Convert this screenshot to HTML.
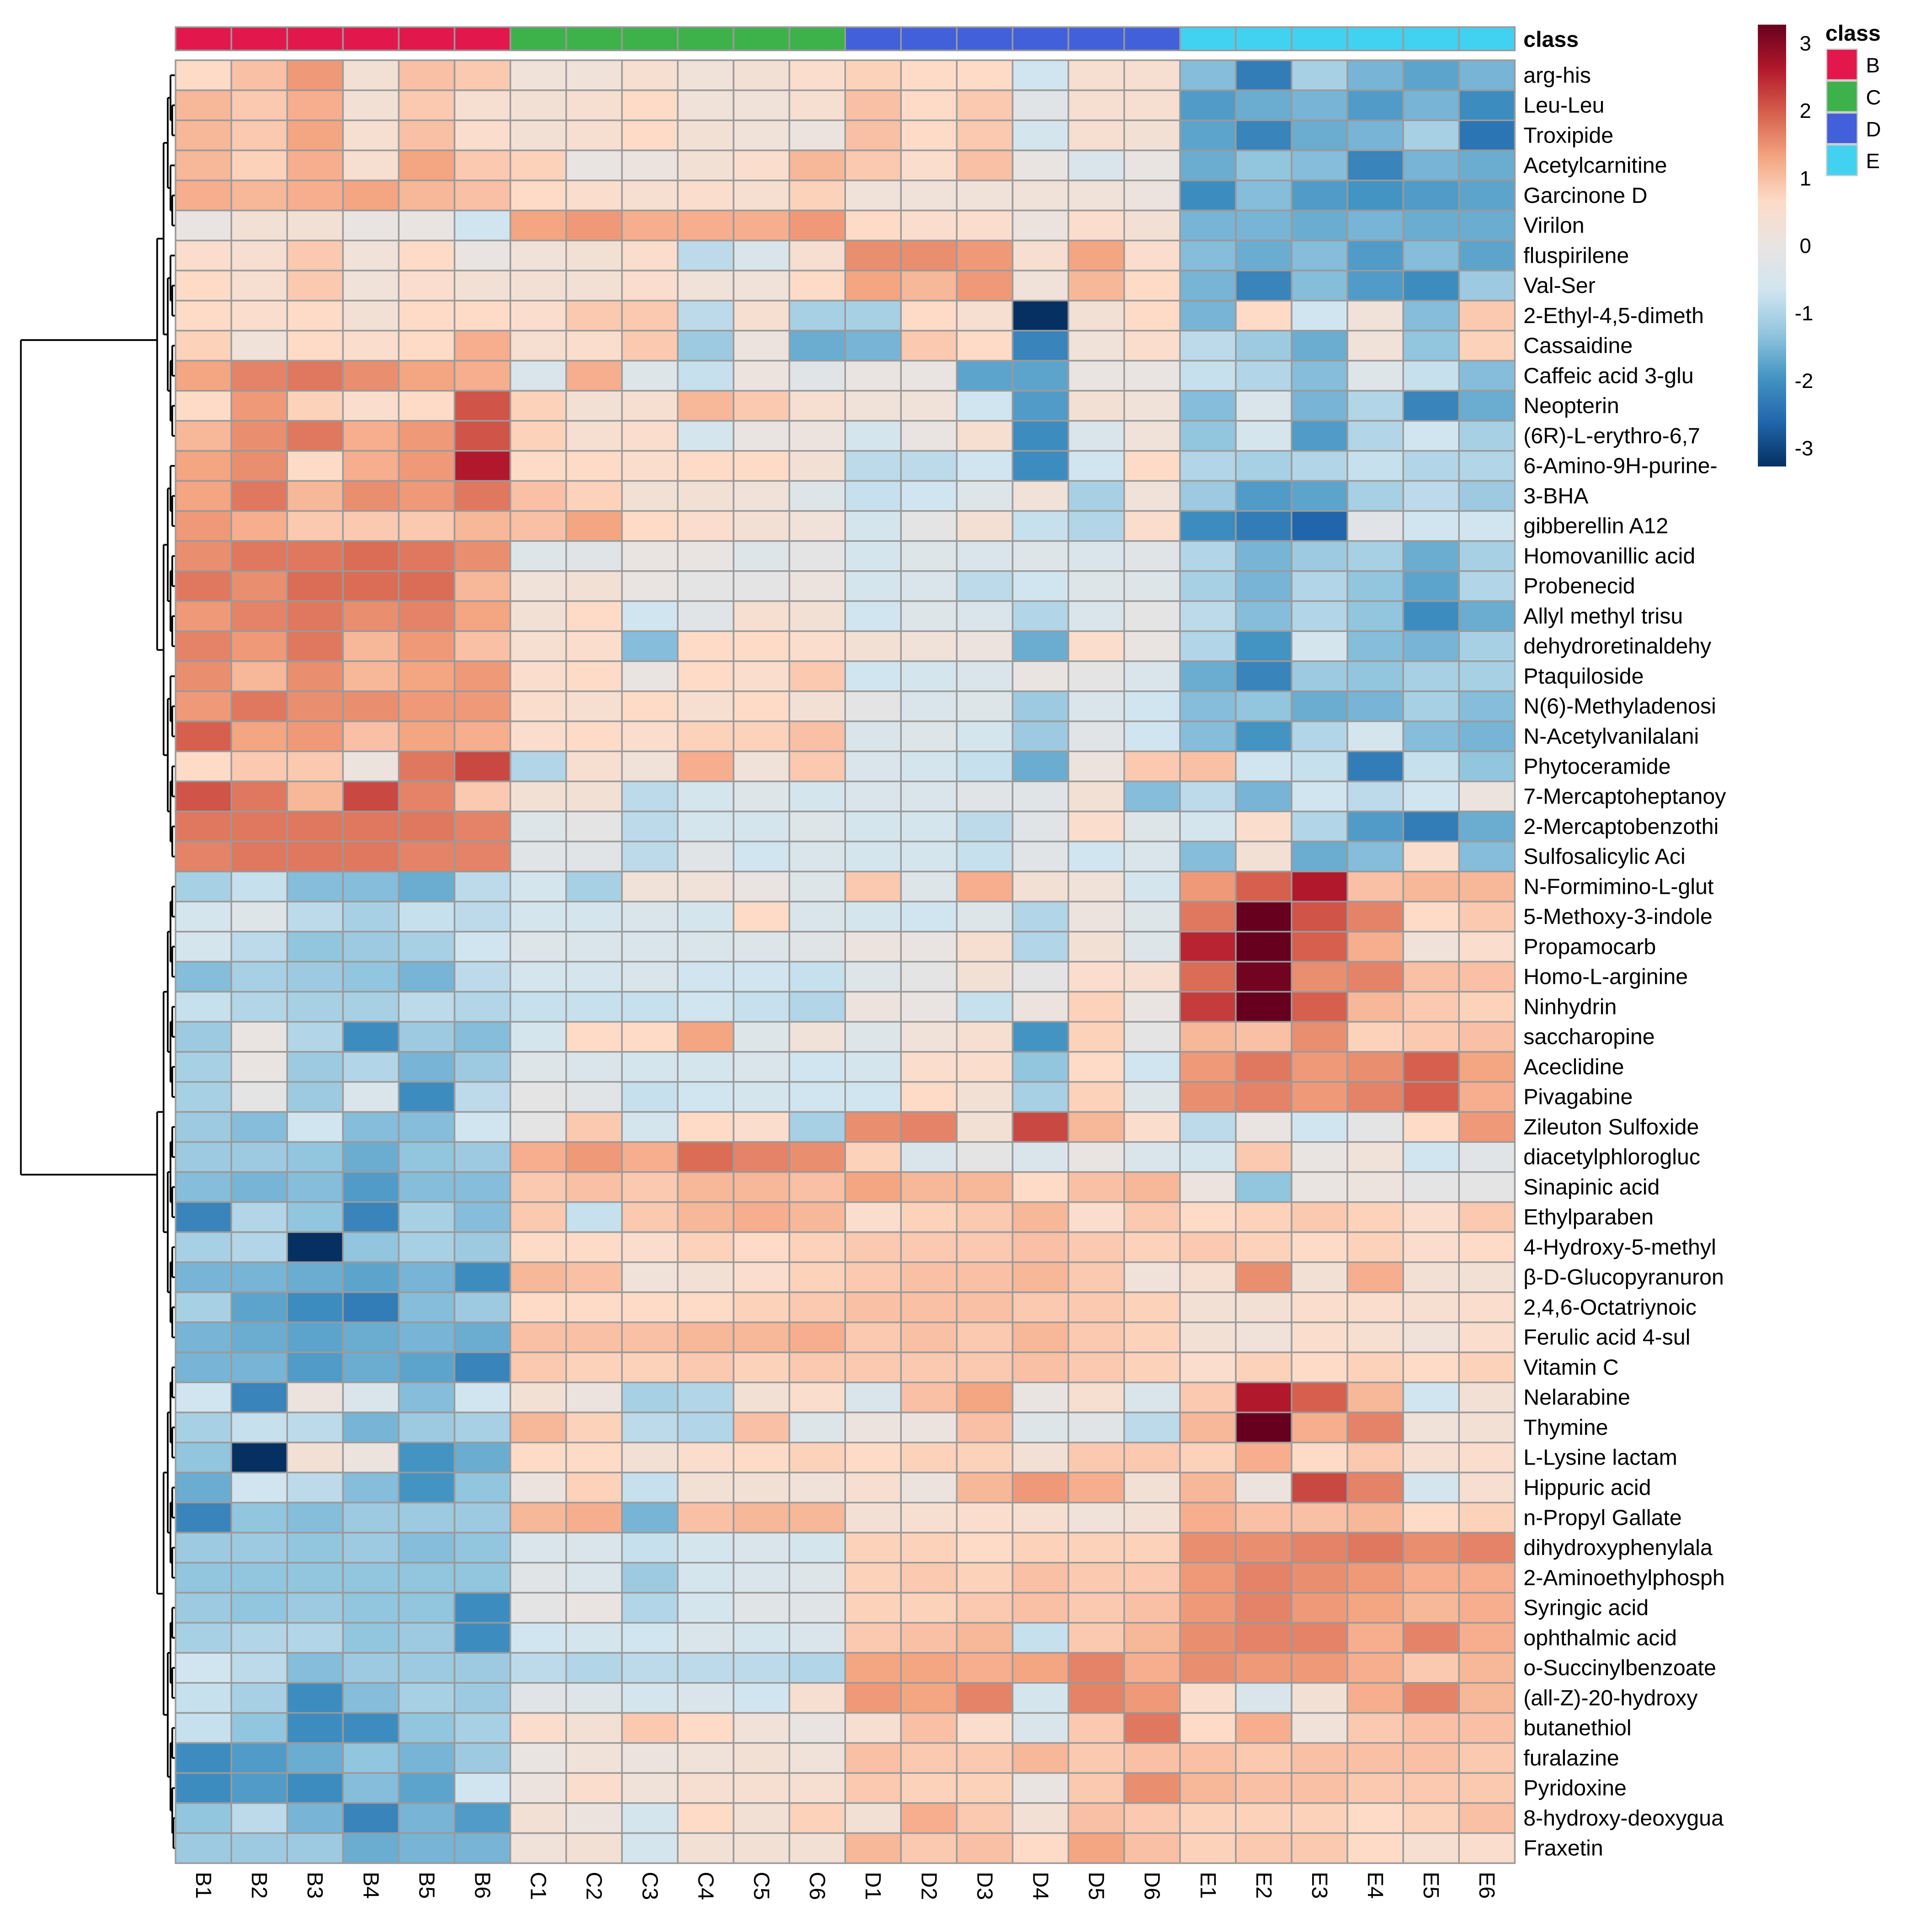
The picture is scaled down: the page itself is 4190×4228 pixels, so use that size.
<!DOCTYPE html>
<html><head><meta charset="utf-8"><style>
html,body{margin:0;padding:0;background:#fff}
svg{display:block}
text{font-family:"Liberation Sans",sans-serif}
</style></head><body>
<svg id="chart" width="4190" height="4228" viewBox="0 0 1560 1574" xmlns="http://www.w3.org/2000/svg">
<rect width="1560" height="1574" fill="#fff"/>
<g id="dendro"></g>
<g id="classbar"></g>
<g id="cells"></g>
<g id="rowlabels"></g>
<g id="collabels"></g>
<text x="1241" y="38" font-size="18" font-weight="bold">class</text>
<defs><linearGradient id="lg" x1="0" y1="0" x2="0" y2="1">
<stop offset="0" stop-color="#67001F"/><stop offset="0.1" stop-color="#B2182B"/><stop offset="0.2" stop-color="#D6604D"/><stop offset="0.3" stop-color="#F4A582"/><stop offset="0.4" stop-color="#FDDBC7"/><stop offset="0.5" stop-color="#E9E4E2"/><stop offset="0.6" stop-color="#D1E5F0"/><stop offset="0.7" stop-color="#92C5DE"/><stop offset="0.8" stop-color="#4393C3"/><stop offset="0.9" stop-color="#2166AC"/><stop offset="1" stop-color="#053061"/>
</linearGradient></defs>
<rect x="1432" y="20" width="23" height="360" fill="url(#lg)"/>
<g id="legticks"></g>
<text x="1487" y="33" font-size="18" font-weight="bold">class</text>
<g id="classlegend"></g>
</svg>
<script>
const rowNames=["arg-his","Leu-Leu","Troxipide","Acetylcarnitine","Garcinone D","Virilon","fluspirilene","Val-Ser","2-Ethyl-4,5-dimeth","Cassaidine","Caffeic acid 3-glu","Neopterin","(6R)-L-erythro-6,7","6-Amino-9H-purine-","3-BHA","gibberellin A12","Homovanillic acid","Probenecid","Allyl methyl trisu","dehydroretinaldehy","Ptaquiloside","N(6)-Methyladenosi","N-Acetylvanilalani","Phytoceramide","7-Mercaptoheptanoy","2-Mercaptobenzothi","Sulfosalicylic Aci","N-Formimino-L-glut","5-Methoxy-3-indole","Propamocarb","Homo-L-arginine","Ninhydrin","saccharopine","Aceclidine","Pivagabine","Zileuton Sulfoxide","diacetylphlorogluc","Sinapinic acid","Ethylparaben","4-Hydroxy-5-methyl","β-D-Glucopyranuron","2,4,6-Octatriynoic","Ferulic acid 4-sul","Vitamin C","Nelarabine","Thymine","L-Lysine lactam","Hippuric acid","n-Propyl Gallate","dihydroxyphenylala","2-Aminoethylphosph","Syringic acid","ophthalmic acid","o-Succinylbenzoate","(all-Z)-20-hydroxy","butanethiol","furalazine","Pyridoxine","8-hydroxy-deoxygua","Fraxetin"];
const colNames=["B1","B2","B3","B4","B5","B6","C1","C2","C3","C4","C5","C6","D1","D2","D3","D4","D5","D6","E1","E2","E3","E4","E5","E6"];
const colClass=["B","B","B","B","B","B","C","C","C","C","C","C","D","D","D","D","D","D","E","E","E","E","E","E"];
const classNames=["B","C","D","E"];
const legendTicks=[3,2,1,0,-1,-2,-3];
const values=[
[.6,.9,1.3,.3,.9,.8,.2,.2,.4,.2,.3,.5,.7,.6,.6,-.6,.4,.4,-1.3,-2.1,-1,-1.4,-1.6,-1.4],
[1,.8,1.1,.3,.8,.4,.3,.4,.6,.2,.2,.4,.9,.6,.8,-.2,.4,.4,-1.7,-1.5,-1.4,-1.7,-1.4,-1.9],
[1,.8,1.2,.4,.9,.5,.3,.4,.6,.3,.2,.1,.9,.6,.8,-.5,.4,.3,-1.6,-2,-1.5,-1.4,-1,-2.2],
[1,.7,1.1,.4,1.2,.8,.7,0,.1,.3,.5,1,.8,.5,.9,0,-.4,0,-1.5,-1.2,-1.3,-2,-1.4,-1.5],
[1.1,1,1.1,1.2,1,.9,.6,.5,.4,.5,.4,.7,.2,.2,.2,.2,.2,.1,-1.9,-1.3,-1.7,-1.8,-1.7,-1.6],
[0,.3,.3,0,0,-.6,1.2,1.3,1.1,1.1,1.1,1.3,.6,.5,.5,.1,.5,.3,-1.4,-1.4,-1.5,-1.4,-1.5,-1.5],
[.5,.4,.8,.2,.6,0,.2,.3,.5,-.8,-.4,.4,1.4,1.4,1.3,.4,1.2,.5,-1.3,-1.5,-1.3,-1.7,-1.3,-1.6],
[.6,.4,.8,.2,.5,.3,.3,.3,.5,.2,.2,.6,1.2,1,1.3,.2,1,.6,-1.4,-2,-1.3,-1.7,-1.9,-1.1],
[.6,.5,.6,.3,.6,.6,.5,.8,.8,-.8,.4,-1,-1,.6,.4,-3.2,.3,.6,-1.4,.6,-.6,.2,-1.3,.8],
[.7,.2,.6,.5,.6,1.1,.4,.5,.8,-1.1,.1,-1.5,-1.4,.8,.6,-2,.2,.5,-.8,-1.1,-1.5,.2,-1.2,.7],
[1.2,1.5,1.6,1.4,1.2,1.1,-.4,1.1,-.3,-.7,.1,-.2,0,0,-1.6,-1.6,0,0,-.7,-.9,-1.3,-.3,-.7,-1.3],
[.6,1.3,.7,.5,.6,1.9,.7,.3,.4,1,.8,.4,.2,.2,-.6,-1.7,.3,.2,-1.3,-.4,-1.4,-.9,-2,-1.5],
[1,1.4,1.6,1.1,1.3,1.9,.7,.4,.5,-.5,0,.1,-.5,0,.4,-1.9,-.4,.2,-1.2,-.5,-1.7,-.9,-.6,-1],
[1.2,1.4,.6,1.1,1.3,2.4,.6,.6,.5,.6,.6,.3,-.8,-.8,-.6,-1.9,-.6,.6,-.9,-1,-.9,-.7,-.9,-.9],
[1.2,1.6,1,1.4,1.3,1.6,.9,.7,.3,.3,.2,-.3,-.7,-.6,-.3,.2,-1,.2,-1.1,-1.7,-1.6,-1,-.8,-1.1],
[1.3,1.1,.8,.8,.8,1,.9,1.2,.6,.5,.3,.2,-.5,-.1,.3,-.7,-.9,.5,-1.9,-2.1,-2.4,-.2,-.6,-.6],
[1.4,1.6,1.6,1.7,1.6,1.4,-.3,-.2,0,0,-.3,-.1,-.5,-.3,-.4,-.3,-.4,-.2,-.9,-1.4,-1.1,-1,-1.5,-1],
[1.6,1.4,1.7,1.7,1.7,1,.2,.3,0,-.1,-.1,.1,-.5,-.4,-.8,-.6,-.3,-.3,-1,-1.4,-.9,-1.2,-1.6,-.9],
[1.3,1.5,1.6,1.4,1.5,1.2,.3,.6,-.6,-.2,.4,.3,-.6,-.3,-.4,-.9,-.4,-.1,-.8,-1.3,-.9,-1.2,-1.9,-1.5],
[1.5,1.3,1.6,1,1.3,.9,.4,.5,-1.3,.6,.6,.5,.3,.2,.1,-1.5,.5,0,-.9,-1.8,-.5,-1.3,-1.4,-1],
[1.4,1,1.4,1,1.2,1.3,.5,.6,0,.6,.5,.8,-.6,-.5,-.4,0,-.1,-.4,-1.5,-2,-1.1,-1.2,-1,-1],
[1.3,1.6,1.4,1.4,1.3,1.3,.5,.4,.6,.4,.6,.3,-.1,-.4,-.3,-1.1,-.4,-.6,-1.3,-1.2,-1.5,-1.4,-1,-1.3],
[1.8,1.2,1.3,.9,1.2,1.1,.5,.6,.5,.7,.7,.9,-.4,-.3,-.5,-1.1,-.2,-.6,-1.3,-1.8,-.9,-.5,-1.3,-1.4],
[.6,.8,.8,.1,1.6,2,-.9,.4,.2,1.1,.2,.8,-.4,-.5,-.7,-1.5,.1,.8,.9,-.6,-.7,-2.1,-.7,-1.2],
[1.9,1.6,1,2,1.5,.8,.3,.3,-.8,-.5,-.3,-.5,-.4,-.4,-.2,-.2,.3,-1.3,-.8,-1.4,-.6,-.8,-.6,.1],
[1.6,1.6,1.6,1.6,1.6,1.5,-.3,-.1,-.8,-.5,-.5,-.3,-.5,-.5,-.8,-.2,.5,-.3,-.5,.5,-.9,-1.7,-2.1,-1.5],
[1.5,1.6,1.6,1.6,1.5,1.5,-.2,-.2,-.8,-.2,-.6,-.4,-.5,-.5,-.7,-.2,-.6,-.4,-1.3,.3,-1.5,-1.3,.5,-1.3],
[-1,-.7,-1.3,-1.3,-1.5,-.8,-.5,-1,.2,.2,0,-.3,.8,-.3,1.1,.3,.2,-.5,1.3,1.8,2.4,.9,1,1],
[-.5,-.3,-.8,-1,-.7,-.8,-.5,-.5,-.4,-.5,.6,-.4,-.5,-.6,-.3,-.9,.1,-.3,1.6,3.2,1.9,1.5,.6,.8],
[-.5,-.8,-1.2,-1.1,-1,-.6,-.3,-.4,-.4,-.4,-.3,-.2,.1,0,.4,-.9,.3,-.3,2.3,3.3,1.8,1.1,.2,.5],
[-1.3,-1,-1.1,-1.2,-1.4,-.8,-.5,-.5,-.4,-.6,-.6,-.7,-.3,-.1,.3,-.1,.5,.4,1.7,2.9,1.4,1.5,.9,.9],
[-.7,-.9,-1,-1,-.8,-.9,-.7,-.7,-.7,-.6,-.7,-.9,.1,0,-.7,.1,.7,0,2.1,3.2,1.8,1,.8,.7],
[-1.1,0,-.9,-1.9,-1.1,-1.3,-.5,.6,.6,1.2,-.3,.2,-.3,.2,.4,-1.8,.7,-.1,1,.9,1.4,.7,.8,.9],
[-1,0,-1.1,-.9,-1.4,-1.1,-.3,-.4,-.5,-.5,-.4,-.6,-.5,.5,.5,-1.2,.6,-.6,1.3,1.6,1.3,1.4,1.8,1.2],
[-1,-.1,-1.1,-.4,-1.9,-.8,-.1,-.2,-.7,-.6,-.5,-.6,-.6,.6,.3,-1,.7,-.3,1.4,1.5,1.3,1.5,1.8,1.1],
[-1.1,-1.3,-.6,-1.3,-1.3,-.6,-.1,.8,-.5,.6,.5,-1,1.4,1.5,.3,2,1,.5,-.8,0,-.6,-.1,.6,1.3],
[-1.1,-1.1,-1.2,-1.5,-1.2,-1.1,1.1,1.3,1.1,1.7,1.5,1.4,.7,-.4,-.1,-.4,0,-.4,-.5,.8,0,.2,-.6,-.2],
[-1.3,-1.4,-1.3,-1.7,-1.3,-1.3,.8,.9,.8,1,1,.9,1.2,1,1,.6,.9,1,.1,-1.2,0,.1,-.1,-.1],
[-2,-.9,-1.2,-2,-1,-1.3,.8,-.7,.8,1,1.1,1,.5,.7,.8,1,.5,.8,.6,.7,.8,.7,.5,.8],
[-1,-.9,-3.2,-1.2,-1,-1.1,.6,.6,.5,.7,.6,.7,.8,.8,.8,.9,.8,.7,.8,.7,.6,.7,.5,.6],
[-1.4,-1.4,-1.5,-1.6,-1.4,-1.9,1,.9,.2,.3,.5,.7,.8,.9,.9,1,.8,.2,.4,1.4,.3,1.1,.3,.3],
[-1,-1.6,-1.9,-2.1,-1.3,-1.1,.6,.6,.6,.6,.7,.8,.9,.9,.9,.8,.8,.7,.3,.3,.5,.5,.4,.5],
[-1.4,-1.5,-1.6,-1.5,-1.4,-1.5,.9,.9,.9,1,1,1.1,.8,.9,.8,1,.8,.7,.3,.2,.5,.4,.2,.5],
[-1.4,-1.4,-1.7,-1.5,-1.6,-2,.8,.7,.7,.8,.7,.8,.8,.8,.8,.9,.8,.7,.5,.7,.6,.7,.6,.7],
[-.6,-2,.1,-.4,-1.3,-.6,.3,.1,-1,-.9,.3,.5,-.4,.9,1.2,0,.4,-.4,.8,2.4,1.8,1,-.6,.3],
[-1,-.7,-.8,-1.4,-1.1,-1,1,.7,-.8,-.9,.9,-.3,.1,.1,.9,-.3,-.2,-.8,1,3.3,1.1,1.5,.2,.3],
[-1.2,-3.3,.3,.1,-1.8,-1.5,.6,.6,.3,.5,.6,.7,.6,.7,.7,.3,.8,.8,.7,1.1,.6,.8,.4,.5],
[-1.5,-.6,-.8,-1.3,-1.8,-1.2,.1,.7,-.7,.3,.3,.2,.4,.1,1,1.3,1.1,.3,1,.1,2,1.5,-.5,.4],
[-2,-1.2,-1.3,-1.1,-1.1,-1.1,1,1.1,-1.4,.9,1,1,.3,.4,.5,.4,.2,.3,1.1,.9,.9,1,.6,.7],
[-1.1,-1.1,-1.2,-1.1,-1.3,-1.2,-.4,-.4,-.7,-.5,-.4,-.5,.7,.7,.6,.7,.7,.7,1.4,1.4,1.5,1.6,1.4,1.5],
[-1.2,-1.2,-1.2,-1.2,-1.2,-1.2,-.2,-.4,-1.1,-.5,-.4,-.3,.7,.8,.7,.9,.8,.8,1.3,1.5,1.4,1.3,1.1,1.1],
[-1.1,-1.2,-1.1,-1.2,-1.2,-1.9,-.1,0,-.9,-.5,-.2,-.2,.7,.7,.8,.9,.8,.9,1.3,1.5,1.3,1.2,1,1.1],
[-1,-.9,-.9,-1.2,-1.1,-1.9,-.6,-.5,-.6,-.4,-.5,-.4,.8,.9,1,-.7,.8,1,1.4,1.5,1.5,1.1,1.5,1.1],
[-.6,-.8,-1.3,-1.1,-1.1,-1.1,-.8,-.9,-.8,-.8,-.8,-.9,1.2,1.2,1.1,1.2,1.5,1.1,1.4,1.3,1.3,1.1,.8,1],
[-.7,-1,-1.9,-1.3,-1,-1.1,-.2,-.3,-.5,-.4,-.6,.4,1.3,1.2,1.5,-.5,1.5,1.3,.5,-.4,.3,1.1,1.5,1],
[-.7,-1.2,-1.9,-1.9,-1.2,-1,.5,.3,.8,.6,.2,0,.4,.9,.5,-.4,.8,1.6,.6,1.1,.2,.8,.9,.9],
[-1.9,-1.7,-1.5,-1.2,-1.4,-1.1,0,.2,.1,.2,.3,.2,.9,.8,.8,1,.8,.9,.9,.8,.9,.9,.9,.8],
[-1.9,-1.7,-1.9,-1.3,-1.6,-.6,.1,.5,.2,.4,.4,.4,.8,.7,.7,0,.8,1.4,1,.9,.9,.8,.8,.8],
[-1.2,-.8,-1.4,-2,-1.4,-1.7,.3,.1,-.5,.6,.3,.7,.3,1.1,.8,.3,.9,.8,.7,.7,.7,.6,.7,.9],
[-1.1,-1.1,-1.1,-1.5,-1.4,-1.4,.2,.3,-.5,.3,.3,.3,1,.8,.9,.6,1.2,.9,.7,.8,.8,.6,.4,.5]
];
const NS="http://www.w3.org/2000/svg";
function mk(tag,attrs,parent){const e=document.createElementNS(NS,tag);for(const k in attrs)e.setAttribute(k,attrs[k]);parent.appendChild(e);return e;}
const X0=143,X1=1234,Y0=49,Y1=1518;
const cw=(X1-X0)/colNames.length, rh=(Y1-Y0)/rowNames.length;
const xPos=i=>X0+i*cw, yPos=j=>Y0+j*rh;
const stops=["#053061","#2166AC","#4393C3","#92C5DE","#D1E5F0","#E9E4E2","#FDDBC7","#F4A582","#D6604D","#B2182B","#67001F"];
const VMIN=-3.0,VMAX=3.0;
function hex(c){return [1,3,5].map(i=>parseInt(c.substr(i,2),16));}
function color(v){let t=(v-VMIN)/(VMAX-VMIN);t=Math.max(0,Math.min(1,t));const p=t*(stops.length-1);const i=Math.min(Math.floor(p),stops.length-2);const f=p-i;const a=hex(stops[i]),b=hex(stops[i+1]);return "rgb("+a.map((x,k)=>Math.round(x+(b[k]-x)*f)).join(",")+")";}
const classColors={B:"#E2184C",C:"#3DB24B",D:"#4160D9",E:"#41D2F2"};
const cells=document.getElementById('cells');
values.forEach((row,j)=>row.forEach((v,i)=>{
 const r=mk('rect',{x:xPos(i),y:yPos(j),width:cw,height:rh,fill:color(v),stroke:"#9a9a9a","stroke-width":1.3},cells);
 
 
}));
const cb=document.getElementById('classbar');
colClass.forEach((c,i)=>{
 const r=mk('rect',{x:xPos(i),y:22,width:cw,height:19,fill:classColors[c],stroke:"#9a9a9a","stroke-width":1.3},cb);
 
 
});
const rl=document.getElementById('rowlabels');
rowNames.forEach((n,j)=>{
 const t=mk('text',{x:1241,y:yPos(j)+rh/2+6,"font-size":18},rl);t.textContent=n;
 
 
});
const cl=document.getElementById('collabels');
colNames.forEach((n,i)=>{
 const cx=xPos(i)+cw/2-6, y=1525;
 const t=mk('text',{x:cx,y:y,"font-size":18,transform:`rotate(90 ${cx} ${y})`},cl);t.textContent=n;
 
 
});
const lt=document.getElementById('legticks');
legendTicks.forEach(v=>{
 const y=200-v*55;
 const t=mk('text',{x:v<0?1462:1466,y:y+6,"font-size":17},lt);t.textContent=String(v);
 
 
});
const clg=document.getElementById('classlegend');
classNames.forEach((c,k)=>{
 const r=mk('rect',{x:1488,y:40+k*26,width:25,height:25,fill:classColors[c],stroke:"#ccc","stroke-width":1},clg);
 
 
 const t=mk('text',{x:1520,y:59+k*26,"font-size":17},clg);t.textContent=c;
 
 
});
const dg=document.getElementById('dendro');
function line(x1,y1,x2,y2){mk('line',{x1,y1,x2,y2,stroke:"#000","stroke-width":1.4},dg);}
function tree(lo,hi,x){
 if(hi-lo===1){return yPos(lo)+rh/2;}
 const mid=Math.floor((lo+hi)/2);
 const cx=x+(X0-x)*0.35;
 const ya=tree(lo,mid,cx), yb=tree(mid,hi,cx);
 const xa=(mid-lo===1)?X0:cx, xb=(hi-mid===1)?X0:cx;
 line(x,ya,xa,ya); line(x,yb,xb,yb); line(x,ya,x,yb);
 return (ya+yb)/2;
}
tree(0,27,128); tree(27,60,128);
line(17,277,128,277); line(17,957,128,957); line(17,277,17,957);
</script>
</body></html>
